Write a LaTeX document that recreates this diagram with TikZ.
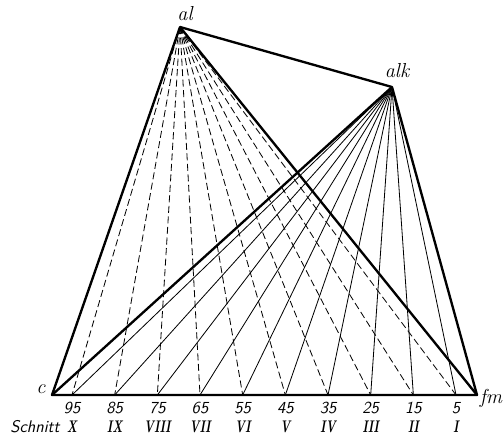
\documentclass[tikz,border=0pt]{standalone}
\usepackage{fontspec}
\usetikzlibrary{positioning}
\tikzset{
  edge/.style={line width=2pt,line join=round},
  ray/.style={line width=0.7pt},
  dray/.style={line width=0.7pt,dash pattern=on 6pt off 3pt},
  lbl/.style={font=\LARGE\itshape,inner sep=0pt},
  num/.style={font=\Large\sffamily\itshape,inner sep=0pt},
  roman/.style={font=\Large\bfseries\itshape,inner sep=0pt,xscale=0.7,transform shape}
}

\begin{document}
\begin{tikzpicture}[x=0.03cm,y=-0.03cm]
    \useasboundingbox (0,0) rectangle (503,439);
    \coordinate (al) at (180,27);
    \coordinate (alk) at (392,87);
    \coordinate (c) at (52,395);
    \coordinate (fm) at (477,395);
    \foreach \n/\r [count=\i] in {95/X,85/IX,75/VIII,65/VII,55/VI,45/V,35/IV,25/III,15/II,5/I}{
      \coordinate (p\i) at ({72+(\i-1)*42.67},395);
      \draw[dray] (al) -- (p\i);
      \draw[ray] (alk) -- (p\i);
      \node[num] (n\i) at ({72+(\i-1)*42.67},408) {\n};
      \node[roman] (r\i) at ({72+(\i-1)*42.67},427) {\r};
    }
    \draw[edge] (c) -- (al) -- (alk) -- (fm) -- cycle;
    \draw[edge] (al) -- (fm);
    \draw[edge] (alk) -- (c);
    \node[lbl] (tal) at (185,14) {al};
    \node[lbl] (talk) at (397,71) {alk};
    \node[lbl] (tc) at (41,389) {c};
    \node[lbl] (tfm) at (491,398) {fm};
    \node[num] (schnitt) at (35,427) {Schnitt};
  \end{tikzpicture}
\end{document}
